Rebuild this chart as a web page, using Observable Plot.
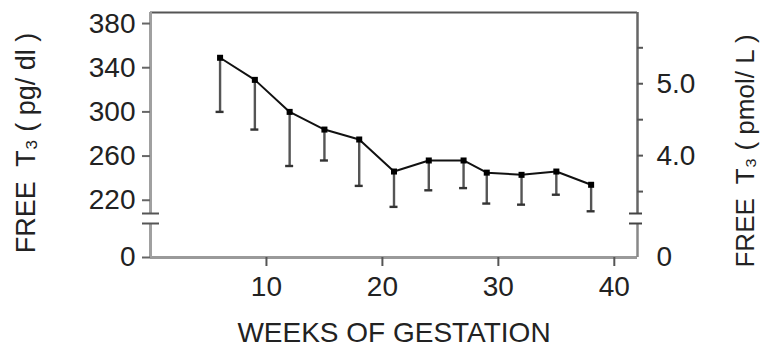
<!DOCTYPE html>
<html>
<head>
<meta charset="utf-8">
<script src="https://cdn.jsdelivr.net/npm/d3@7"></script>
<script src="https://cdn.jsdelivr.net/npm/@observablehq/plot@0.6"></script>
<style>
  html, body { margin: 0; padding: 0; background: #fff; }
  svg { display: block; }
</style>
</head>
<body>
<div id="chart"></div>
<script>
// ---- data ----
const weeks   = [6, 9, 12, 15, 18, 21, 24, 27, 29, 32, 35, 38];
const meanT3  = [349, 329, 300, 284, 275, 246, 256, 256, 245, 243, 246, 234];   // pg/dl
const lowerT3 = [300, 284, 251, 256, 233, 214, 229, 231, 217, 216, 225, 210];   // mean - SD, pg/dl

const xTicks = [10, 20, 30, 40];
const leftTicks = [220, 260, 300, 340, 380];
const leftZeroTick = [0];
const rightTicksPmol = [3.5, 4.0, 4.5, 5.0, 5.5];
const rightLabelsPmol = [4.0, 5.0];
const rightZeroTick = [0];
const PGDL_PER_PMOL = 65.1;          // 1 pmol/L free T3 = 65.1 pg/dl

// axis extents / break (in data units)
const xDomain = [0, 42];
const yTop = 390;
const breakUpper = 208;   // where the upper segment ends
const breakLower = 100;   // where the zero segment ends

const xLabel = "WEEKS OF GESTATION";
const yLabelLeft = "FREE  T\u2083 ( pg/ dl )";
const yLabelRight = "FREE  T\u2083 ( pmol/ L )";

const data = weeks.map((w, i) => ({week: w, mean: meanT3[i], lower: lowerT3[i]}));
const rightTicks = rightTicksPmol.map(p => p * PGDL_PER_PMOL);
const rightLabels = rightLabelsPmol.map(p => ({v: p * PGDL_PER_PMOL, t: p.toFixed(1)}));

const font = "'Liberation Sans', Arial, Helvetica, sans-serif";
const tickFont = 28;

const chart = Plot.plot({
  width: 763,
  height: 349,
  marginLeft: 150,
  marginRight: 126,
  marginTop: 12,
  marginBottom: 92,
  style: {fontFamily: font, background: "#fff", overflow: "visible", color: "#222"},
  x: {domain: xDomain, axis: null},
  y: {type: "linear", domain: [0, breakLower, breakUpper, yTop], range: [257, 223, 213, 12], axis: null},
  marks: [
    // frame: top and bottom
    Plot.ruleY([yTop], {x1: xDomain[0], x2: xDomain[1], stroke: "#555", strokeWidth: 2}),
    Plot.ruleY([0], {x1: xDomain[0], x2: xDomain[1], stroke: "#9a9a9a", strokeWidth: 3}),
    // left axis (broken)
    Plot.ruleX([xDomain[0]], {y1: breakUpper, y2: yTop, stroke: "#a0a0a0", strokeWidth: 3}),
    Plot.ruleX([xDomain[0]], {y1: 0, y2: breakLower, stroke: "#a0a0a0", strokeWidth: 3}),
    Plot.ruleY([breakUpper, breakLower], {x1: xDomain[0], x2: xDomain[0], insetLeft: -8, insetRight: -9, stroke: "#555", strokeWidth: 2}),
    // right axis (broken)
    Plot.ruleX([xDomain[1]], {y1: breakUpper, y2: yTop, stroke: "#666", strokeWidth: 2.5}),
    Plot.ruleX([xDomain[1]], {y1: 0, y2: breakLower, stroke: "#888", strokeWidth: 2.5}),
    Plot.ruleY([breakUpper, breakLower], {x1: xDomain[1], x2: xDomain[1], insetLeft: -8, insetRight: -5, stroke: "#444", strokeWidth: 2}),
    // left ticks
    Plot.ruleY(leftTicks.concat(leftZeroTick), {x1: xDomain[0], x2: xDomain[0], insetLeft: -8, stroke: "#666", strokeWidth: 2}),
    Plot.text(leftTicks.concat(leftZeroTick), {y: d => d, text: d => String(d), frameAnchor: "left", textAnchor: "end", lineAnchor: "middle", dx: -15, fontSize: tickFont, fill: "#222"}),
    // right ticks
    Plot.ruleY(rightTicks, {x1: xDomain[1], x2: xDomain[1], insetRight: -6, stroke: "#555", strokeWidth: 2}),
    Plot.text(rightLabels, {y: "v", text: "t", frameAnchor: "right", textAnchor: "start", lineAnchor: "middle", dx: 19, fontSize: tickFont, fill: "#222"}),
    Plot.text(rightZeroTick, {y: d => d, text: d => String(d), frameAnchor: "right", textAnchor: "start", lineAnchor: "middle", dx: 19, fontSize: tickFont, fill: "#222"}),
    // x ticks
    Plot.ruleX(xTicks, {x: d => d, y1: 0, y2: 0, insetBottom: -9, stroke: "#555", strokeWidth: 2}),
    Plot.text(xTicks, {x: d => d, text: d => String(d), frameAnchor: "bottom", textAnchor: "middle", lineAnchor: "middle", dy: 30, fontSize: tickFont, fill: "#222"}),
    // axis titles
    Plot.text([xLabel], {frameAnchor: "bottom", textAnchor: "middle", lineAnchor: "middle", dy: 76, fontSize: 28, fill: "#222"}),
    Plot.text([yLabelLeft], {frameAnchor: "left", textAnchor: "middle", lineAnchor: "middle", rotate: -90, dx: -124, dy: 8, fontSize: 27, fill: "#222"}),
    Plot.text([yLabelRight], {frameAnchor: "right", textAnchor: "middle", lineAnchor: "middle", rotate: -90, dx: 108, dy: 16, fontSize: 26, fill: "#222"}),
    // error bars (mean down to mean - SD) with caps
    Plot.ruleX(data, {x: "week", y1: "lower", y2: "mean", stroke: "#555", strokeWidth: 2.4}),
    Plot.ruleY(data, {y: "lower", x1: "week", x2: "week", insetLeft: -4, insetRight: -4, stroke: "#333", strokeWidth: 2.4}),
    // mean line and markers
    Plot.line(data, {x: "week", y: "mean", stroke: "#111", strokeWidth: 2}),
    Plot.dot(data, {x: "week", y: "mean", symbol: "square", r: 3.4, fill: "#000", stroke: "none"})
  ]
});

document.getElementById("chart").appendChild(chart);
</script>
</body>
</html>
